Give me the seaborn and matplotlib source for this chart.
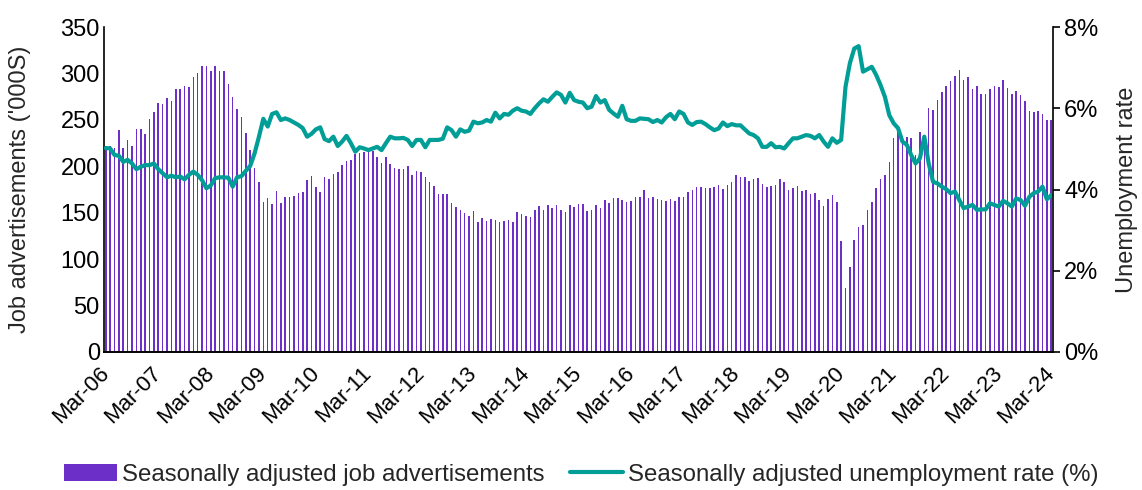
import numpy as np
import pandas as pd
import matplotlib
matplotlib.use('Agg')
import matplotlib.pyplot as plt
import seaborn as sns
from matplotlib.patches import Patch
from matplotlib.lines import Line2D
from matplotlib.ticker import FuncFormatter

# monthly data, Mar-06 .. Mar-24
job_ads = [
    222, 222, 220, 239, 220, 228, 222, 240, 240, 235, 251, 258, 268, 267, 274, 270, 283, 283, 287, 285, 296, 301, 308, 308, 303, 308, 303,
    303, 289, 275, 262, 253, 236, 218, 198, 183, 162, 166, 159, 173, 160, 167, 167, 168, 171, 172, 185, 190, 178, 172, 189, 186, 192, 194,
    201, 206, 207, 213, 214, 215, 215, 216, 210, 204, 210, 203, 198, 197, 197, 200, 191, 195, 194, 189, 183, 179, 170, 170, 170, 161, 156,
    153, 150, 146, 152, 140, 144, 141, 143, 142, 140, 141, 142, 140, 151, 149, 146, 145, 153, 157, 153, 158, 155, 158, 153, 151, 158, 156, 159,
    159, 152, 153, 158, 155, 164, 161, 166, 166, 164, 162, 163, 167, 167, 175, 166, 167, 165, 164, 163, 165, 163, 167, 167, 172, 174, 178,
    178, 177, 177, 178, 180, 176, 180, 183, 191, 188, 189, 184, 186, 187, 181, 178, 179, 180, 186, 183, 174, 177, 179, 173, 175, 170, 171, 164,
    157, 165, 169, 162, 120, 69, 92, 121, 135, 137, 153, 162, 177, 186, 191, 205, 230, 237, 233, 232, 230, 212, 237, 232, 263, 261, 271,
    280, 287, 292, 297, 304, 293, 296, 283, 287, 278, 278, 283, 287, 285, 293, 284, 278, 281, 277, 270, 260, 259, 260, 256, 250, 250,
]

unemployment = [
    5.02, 5.01, 4.85, 4.83, 4.68, 4.73, 4.64, 4.50, 4.56, 4.60, 4.60, 4.64, 4.50, 4.40, 4.30, 4.34, 4.30, 4.32, 4.25, 4.36, 4.44, 4.36, 4.23, 4.03, 4.10, 4.28, 4.30,
    4.30, 4.29, 4.07, 4.30, 4.33, 4.46, 4.58, 4.89, 5.30, 5.74, 5.55, 5.86, 5.90, 5.71, 5.75, 5.71, 5.65, 5.59, 5.51, 5.30, 5.37, 5.48, 5.53, 5.24, 5.19, 5.30, 5.07,
    5.18, 5.32, 5.14, 4.93, 5.04, 5.01, 4.97, 5.01, 5.05, 4.97, 5.14, 5.30, 5.26, 5.26, 5.27, 5.22, 5.07, 5.22, 5.22, 5.04, 5.22, 5.22, 5.22, 5.25, 5.53, 5.46, 5.30,
    5.48, 5.42, 5.45, 5.67, 5.63, 5.65, 5.71, 5.67, 5.89, 5.75, 5.86, 5.84, 5.94, 6.00, 5.94, 5.92, 5.86, 6.00, 6.12, 6.22, 6.16, 6.28, 6.39, 6.33, 6.14, 6.38, 6.20, 6.16,
    6.14, 6.00, 6.04, 6.30, 6.14, 6.20, 5.96, 5.87, 5.79, 6.06, 5.73, 5.69, 5.69, 5.75, 5.74, 5.73, 5.66, 5.71, 5.65, 5.78, 5.86, 5.73, 5.92, 5.86, 5.65, 5.59, 5.66,
    5.67, 5.61, 5.53, 5.46, 5.50, 5.65, 5.56, 5.61, 5.58, 5.58, 5.48, 5.38, 5.34, 5.26, 5.05, 5.05, 5.14, 5.04, 5.05, 5.01, 5.14, 5.26, 5.26, 5.30, 5.34, 5.32, 5.26, 5.34,
    5.18, 5.05, 5.26, 5.15, 5.22, 6.53, 7.11, 7.47, 7.53, 6.90, 6.96, 7.02, 6.82, 6.57, 6.28, 5.83, 5.63, 5.51, 5.18, 5.10, 4.85, 4.64, 4.77, 5.30, 4.64, 4.19, 4.15,
    4.07, 4.01, 3.91, 3.95, 3.74, 3.54, 3.58, 3.62, 3.50, 3.51, 3.51, 3.66, 3.62, 3.58, 3.72, 3.66, 3.58, 3.78, 3.74, 3.60, 3.82, 3.91, 3.95, 4.07, 3.76, 3.86,
]

tick_labels = ['Mar-06', 'Mar-07', 'Mar-08', 'Mar-09', 'Mar-10', 'Mar-11', 'Mar-12',
               'Mar-13', 'Mar-14', 'Mar-15', 'Mar-16', 'Mar-17', 'Mar-18', 'Mar-19',
               'Mar-20', 'Mar-21', 'Mar-22', 'Mar-23', 'Mar-24']

bar_color = '#6C2FC8'
line_color = '#009E96'

df = pd.DataFrame({'month': np.arange(len(job_ads)),
                   'ads': job_ads,
                   'rate': unemployment})

sns.set_theme(style='white')
plt.rcParams['font.family'] = ['Liberation Sans', 'DejaVu Sans']
fs = 17

fig = plt.figure(figsize=(11.42, 4.90), dpi=100)
ax = fig.add_axes([104 / 1142, 1 - 352 / 490, 949 / 1142, 325 / 490])

sns.barplot(data=df, x='month', y='ads', color=bar_color, saturation=1,
            width=0.36, linewidth=0, ax=ax)
ax.set_xlim(-0.4, len(job_ads) - 0.6)
ax.set_ylim(0, 350)
ax.set_yticks(range(0, 351, 50))
ax.set_xticks(range(0, len(job_ads), 12))
ax.set_xticklabels(tick_labels, rotation=45, ha='right', va='center',
                   rotation_mode='anchor')
ax.set_xlabel('')
ax.set_ylabel("Job advertisements ('000S)", fontsize=fs)
ax.yaxis.set_label_coords(-0.077, 0.5)

# unemployment on the right axis
ax2 = ax.twinx()
sns.lineplot(data=df, x='month', y='rate', color=line_color, linewidth=3,
             ax=ax2, legend=False)
ax2.set_ylim(0, 8)
ax2.set_yticks(range(0, 9, 2))
ax2.yaxis.set_major_formatter(FuncFormatter(lambda v, _: f'{v:.0f}%'))
ax2.set_xlim(-0.4, len(job_ads) - 0.6)
ax2.set_ylabel('Unemployment rate', fontsize=fs)
ax2.yaxis.set_label_coords(1.066, 0.5)
ax2.set_xlabel('')

for a in (ax, ax2):
    for s in a.spines.values():
        s.set_color('black')
        s.set_linewidth(1.2)
    a.spines['top'].set_visible(False)
    a.tick_params(axis='both', direction='out', length=5, width=1.2,
                  colors='black', labelsize=fs, pad=3)
    a.grid(False)
ax.spines['right'].set_visible(False)
ax2.spines['left'].set_visible(False)
ax.tick_params(axis='y', length=0)
ax.tick_params(axis='x', labelsize=16, pad=8)

handles = [Patch(facecolor=bar_color, edgecolor='none'),
           Line2D([0], [0], color=line_color, linewidth=3)]
labels = ['Seasonally adjusted job advertisements',
          'Seasonally adjusted unemployment rate (%)']
fig.legend(handles, labels, loc='center', bbox_to_anchor=(0.509, 0.031),
           ncol=2, frameon=False, fontsize=17.3, handlelength=2.2,
           handletextpad=0.2, columnspacing=1.1, borderaxespad=0)

fig.savefig('out.png', dpi=100)
